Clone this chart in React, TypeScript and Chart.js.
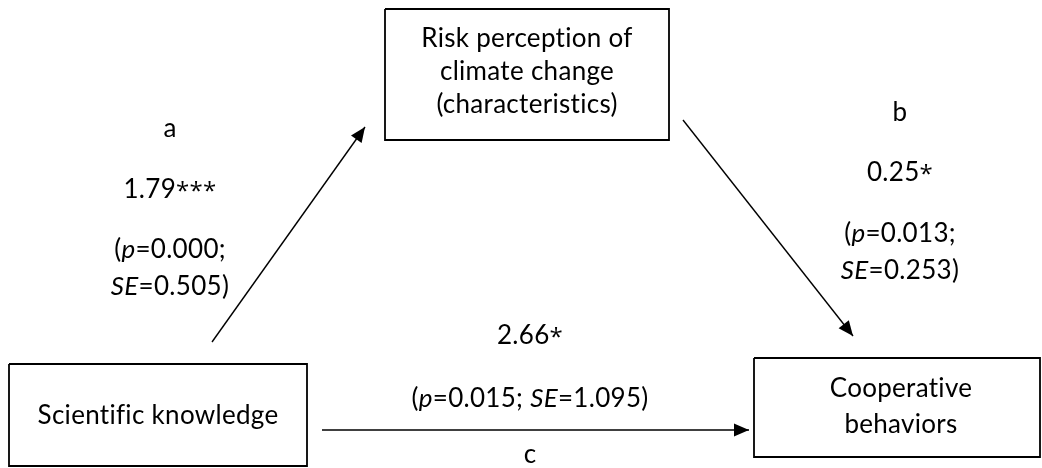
import { useEffect, useRef } from 'react';
import { Chart, registerables } from 'chart.js';

Chart.register(...registerables);

// Variables of the mediation model (X, M, Y), one entry per text line
const variableLines: string[][] = [
  ['Scientific knowledge'],
  ['Risk perception of', 'climate change', '(characteristics)'],
  ['Cooperative', 'behaviors'],
];

// Path estimates: a (X -> M), b (M -> Y), c (X -> Y)
const pathLetters = ['a', 'b', 'c'];
const pathCoefficients = ['1.79', '0.25', '2.66'];
const pathStars = ['***', '*', '*'];
const pathP = ['0.000', '0.013', '0.015'];
const pathSE = ['0.505', '0.253', '1.095'];

// Diagram geometry in scale units (x: 0..1042, y: 0..468, top-down)
const boxLayout = [
  { x0: 9, x1: 307, y0: 364, y1: 466, cx: 158, baselines: [424] },
  { x0: 385, x1: 669, y0: 9, y1: 140, cx: 527, baselines: [47, 80, 113] },
  { x0: 754, x1: 1040, y0: 358, y1: 457, cx: 901, baselines: [397, 433] },
];
const arrowLayout = [
  { from: [212, 342], to: [365, 127] },
  { from: [683, 120], to: [853, 336] },
  { from: [322, 430], to: [749, 430] },
];
const pathTextLayout = [
  { cx: 170, letter: 137, coef: 198, stats: [258, 295] },
  { cx: 900, letter: 121, coef: 181, stats: [242, 279] },
  { cx: 530, letter: 463, coef: 344, stats: [407] },
];

const FONT_FAMILY = 'Lato, "Liberation Sans", sans-serif';
const STAR_FAMILY = '"Open Sans", "DejaVu Sans", sans-serif';
const FONT_SIZE = 26;
const INK = '#000000';

type Seg = { t: string; i?: boolean; star?: boolean };
type TextItem = { cx: number; y: number; segs: Seg[] };

function buildTextItems(): TextItem[] {
  const items: TextItem[] = [];
  variableLines.forEach((lines, k) => {
    lines.forEach((line, j) => {
      items.push({ cx: boxLayout[k].cx, y: boxLayout[k].baselines[j], segs: [{ t: line }] });
    });
  });
  pathLetters.forEach((letter, k) => {
    const L = pathTextLayout[k];
    items.push({ cx: L.cx, y: L.letter, segs: [{ t: letter }] });
    items.push({ cx: L.cx, y: L.coef, segs: [{ t: pathCoefficients[k] }, { t: pathStars[k], star: true }] });
    if (L.stats.length === 2) {
      items.push({ cx: L.cx, y: L.stats[0], segs: [{ t: '(' }, { t: 'p', i: true }, { t: '=' + pathP[k] + ';' }] });
      items.push({ cx: L.cx, y: L.stats[1], segs: [{ t: 'SE', i: true }, { t: '=' + pathSE[k] + ')' }] });
    } else {
      items.push({
        cx: L.cx,
        y: L.stats[0],
        segs: [{ t: '(' }, { t: 'p', i: true }, { t: '=' + pathP[k] + '; ' }, { t: 'SE', i: true }, { t: '=' + pathSE[k] + ')' }],
      });
    }
  });
  return items;
}

const arrowHeadPlugin = {
  id: 'arrowHeads',
  afterDatasetsDraw(chart: any) {
    const ctx = chart.ctx as CanvasRenderingContext2D;
    chart.data.datasets.forEach((ds: any, idx: number) => {
      if (!ds.arrowHead) return;
      const pts = chart.getDatasetMeta(idx).data;
      const a = pts[pts.length - 2];
      const b = pts[pts.length - 1];
      const ang = Math.atan2(b.y - a.y, b.x - a.x);
      const len = 15;
      const half = 6.5;
      ctx.save();
      ctx.fillStyle = INK;
      ctx.beginPath();
      ctx.moveTo(b.x, b.y);
      ctx.lineTo(b.x - len * Math.cos(ang) + half * Math.sin(ang), b.y - len * Math.sin(ang) - half * Math.cos(ang));
      ctx.lineTo(b.x - len * Math.cos(ang) - half * Math.sin(ang), b.y - len * Math.sin(ang) + half * Math.cos(ang));
      ctx.closePath();
      ctx.fill();
      ctx.restore();
    });
  },
};

const labelPlugin = {
  id: 'diagramLabels',
  afterDraw(chart: any) {
    const ctx = chart.ctx as CanvasRenderingContext2D;
    const xs = chart.scales.x;
    const ys = chart.scales.y;
    const items = buildTextItems();
    ctx.save();
    ctx.fillStyle = INK;
    ctx.textBaseline = 'alphabetic';
    ctx.textAlign = 'left';
    // a tiny tracking value keeps "fi"/"ti" as separate glyphs
    (ctx as any).letterSpacing = '0.3px';
    const fontOf = (s: Seg) =>
      s.star ? `${FONT_SIZE - 2}px ${STAR_FAMILY}` : `${s.i ? 'italic ' : ''}${FONT_SIZE}px ${FONT_FAMILY}`;
    items.forEach((it) => {
      let total = 0;
      it.segs.forEach((s) => {
        ctx.font = fontOf(s);
        total += ctx.measureText(s.t).width;
      });
      let x = xs.getPixelForValue(it.cx) - total / 2;
      const y = ys.getPixelForValue(it.y);
      it.segs.forEach((s) => {
        ctx.font = fontOf(s);
        ctx.fillText(s.t, x, s.star ? y + 1 : y);
        x += ctx.measureText(s.t).width;
      });
    });
    ctx.restore();
  },
};

export default function App() {
  const canvasRef = useRef<HTMLCanvasElement | null>(null);

  useEffect(() => {
    if (!canvasRef.current) return;
    const boxSets = boxLayout.map((b) => ({
      data: [
        { x: b.x0, y: b.y0 },
        { x: b.x1, y: b.y0 },
        { x: b.x1, y: b.y1 },
        { x: b.x0, y: b.y1 },
        { x: b.x0, y: b.y0 },
      ],
      showLine: true,
      borderColor: INK,
      borderWidth: 1.8,
      borderJoinStyle: 'miter',
      pointRadius: 0,
      clip: false,
    }));
    const arrowSets = arrowLayout.map((a) => ({
      data: [
        { x: a.from[0], y: a.from[1] },
        { x: a.to[0], y: a.to[1] },
      ],
      showLine: true,
      borderColor: INK,
      borderWidth: 1.4,
      pointRadius: 0,
      clip: false,
      arrowHead: true,
    }));
    const chart = new Chart(canvasRef.current, {
      type: 'scatter',
      data: { datasets: [...boxSets, ...arrowSets] as any },
      options: {
        animation: false,
        responsive: true,
        maintainAspectRatio: false,
        layout: { padding: 0 },
        scales: {
          x: { type: 'linear', min: 0, max: 1042, display: false },
          y: { type: 'linear', min: 0, max: 468, reverse: true, display: false },
        },
        plugins: { legend: { display: false }, tooltip: { enabled: false } },
        events: [],
      },
      plugins: [arrowHeadPlugin, labelPlugin],
    });
    return () => chart.destroy();
  }, []);

  return (
    <div style={{ position: 'fixed', left: 0, top: 0, width: 1042, height: 468, background: '#ffffff' }}>
      <canvas ref={canvasRef} />
    </div>
  );
}
